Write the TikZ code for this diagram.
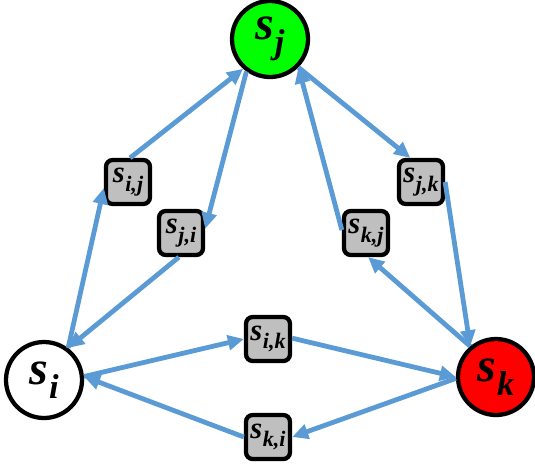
\documentclass[tikz,border=0pt]{standalone}
\usepackage{fontspec}
\setmainfont{Liberation Serif}
\usepackage{tikz}
\usetikzlibrary{arrows.meta,positioning,calc}
\definecolor{flowblue}{HTML}{5B9BD5}
\definecolor{boxgray}{HTML}{BFBFBF}
\definecolor{nodegreen}{HTML}{00FF00}
\definecolor{nodered}{HTML}{FF0000}
% bold italic s with a lowered index
\newcommand{\sname}[1]{\textbf{\textit{s}}\kern0.02em\raisebox{-0.28em}{\scalebox{0.72}{\textbf{\textit{#1}}}}}

\begin{document}
\begin{tikzpicture}[x=0.75pt,y=-0.75pt,
  state/.style={circle,draw=black,line width=3.2pt,minimum size=57pt,inner sep=0pt,
    font=\fontsize{36}{36}\selectfont},
  share/.style={draw=black,line width=3.2pt,rounded corners=5pt,fill=boxgray,
    minimum size=33pt,inner sep=0pt,font=\fontsize{23}{23}\selectfont},
  arr/.style={-{Triangle[length=12pt,width=11pt]},line width=3.6pt,flowblue}]
\useasboundingbox (0,0) rectangle (535,469);
\node[state,fill=nodegreen] (sj) at (270,39) {\sname{j}};
\node[state,fill=white] (si) at (44,380) {\sname{i}};
\node[state,fill=nodered] (sk) at (496,377) {\sname{k}};
\node[share] (sij) at (128,182) {\sname{i,j}};
\node[share] (sji) at (181,233) {\sname{j,i}};
\node[share] (sjk) at (421,182) {\sname{j,k}};
\node[share] (skj) at (366,233) {\sname{k,j}};
\node[share] (sik) at (268,339) {\sname{i,k}};
\node[share] (ski) at (268,437) {\sname{k,i}};
\draw[arr] (si.53)--(sij.194);
\draw[arr] (sij.85)--(sj.228);
\draw[arr] (sj.234)--(sji.10);
\draw[arr] (sji.265)--(si.53);
\draw[arr] (sj.315)--(sjk.114);
\draw[arr] (sjk.0)--(sk.130);
\draw[arr] (sk.130)--(skj.275);
\draw[arr] (skj.173)--(sj.315);
\draw[arr] (si.5)--(sik.180);
\draw[arr] (sik.2)--(sk.180);
\draw[arr] (sk.182)--(ski.0);
\draw[arr] (ski.180)--(si.5);
\end{tikzpicture}
\end{document}
